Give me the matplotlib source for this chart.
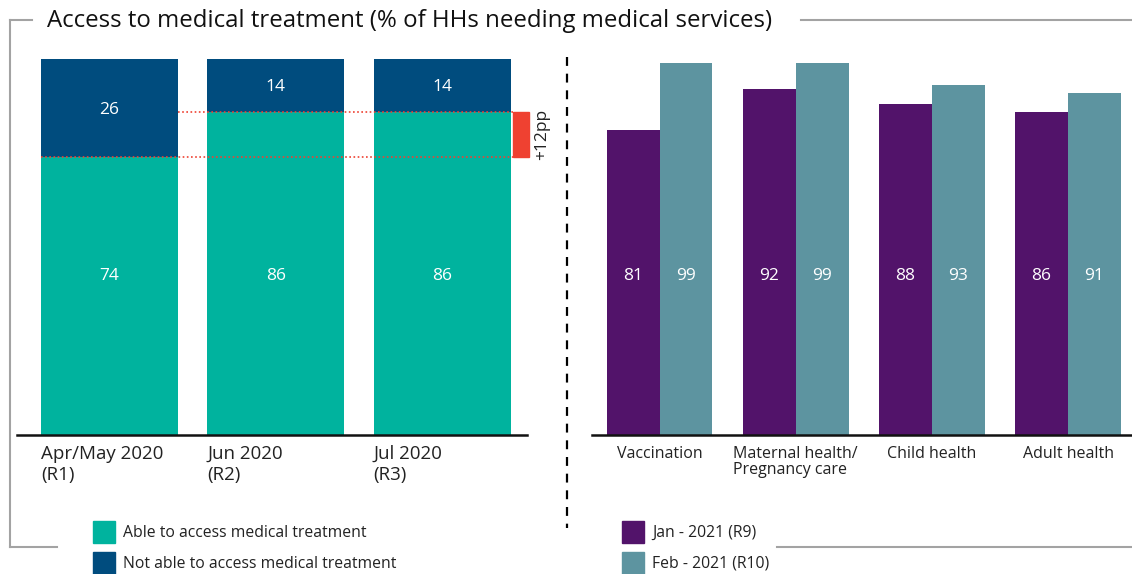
import numpy as np
import matplotlib.pyplot as plt
from matplotlib.lines import Line2D
from matplotlib.patches import Rectangle

plt.rcParams['font.family'] = ['Open Sans', 'DejaVu Sans']

W, H = 1132, 574

# left panel: share of households needing medical services
rounds = ["Apr/May 2020\n(R1)", "Jun 2020\n(R2)", "Jul 2020\n(R3)"]
able = [74, 86, 86]
not_able = [26, 14, 14]

# right panel: access by type of service
services = ["Vaccination", "Maternal health/\nPregnancy care", "Child health", "Adult health"]
jan_r9 = [81, 92, 88, 86]
feb_r10 = [99, 99, 93, 91]

TEAL = "#00B39E"
NAVY = "#004C7E"
PURPLE = "#52136A"
SLATE = "#5D94A0"
RED = "#EF4131"
GREY = "#A3A3A3"


def fx(x):
    return x / W


def fy(y):
    return 1 - y / H


def ax_rect(x0, x1, ytop, ybot):
    return [fx(x0), fy(ybot), (x1 - x0) / W, (ybot - ytop) / H]


fig = plt.figure(figsize=(W / 100, H / 100), dpi=100)

# ---- left: stacked bars
ax1 = fig.add_axes(ax_rect(17, 527, 59, 435))
x1 = np.arange(len(rounds))
w1 = 0.824
ax1.bar(x1, able, w1, color=TEAL)
ax1.bar(x1, not_able, w1, bottom=able, color=NAVY)
for i in range(len(rounds)):
    ax1.text(x1[i], 42.3, f"{able[i]}", color="white", ha="center", va="center", fontsize=12.5)
    ax1.text(x1[i], able[i] + not_able[i] / 2 - 0.5, f"{not_able[i]}", color="white",
             ha="center", va="center", fontsize=12.5)
ax1.set_xlim(-0.556, 2.511)
ax1.set_ylim(0, 100)

# change between R1 and R3
x_red = 2.427
ax1.plot([x1[0] - w1 / 2, x_red], [able[0], able[0]], color=RED, ls=(0, (1, 1.5)), lw=1.2)
ax1.plot([x1[0] + w1 / 2, x_red], [able[2], able[2]], color=RED, ls=(0, (1, 1.5)), lw=1.2)
ax1.add_patch(Rectangle((x_red, able[0]), 0.096, able[2] - able[0], color=RED, clip_on=False))
ax1.text(2.6, (able[0] + able[2]) / 2, f"+{able[2] - able[0]}pp", rotation=90,
         ha="center", va="center", fontsize=12.5, color="#222222")

ax1.set_xticks(x1 - w1 / 2, rounds, ha="left", fontsize=13.5, linespacing=1.25)
ax1.set_yticks([])
ax1.tick_params(axis="x", length=0, pad=7, colors="#222222")
for s in ["top", "right", "left"]:
    ax1.spines[s].set_visible(False)
ax1.spines["bottom"].set_linewidth(1.8)
ax1.spines["bottom"].set_color("#111111")

# ---- right: grouped bars
ax2 = fig.add_axes(ax_rect(592, 1132, 59, 435))
x2 = np.arange(len(services))
w2 = 0.389
ax2.bar(x2 - w2 / 2, jan_r9, w2, color=PURPLE)
ax2.bar(x2 + w2 / 2, feb_r10, w2, color=SLATE)
for i in range(len(services)):
    ax2.text(x2[i] - w2 / 2, 42.3, f"{jan_r9[i]}", color="white", ha="center", va="center", fontsize=12.5)
    ax2.text(x2[i] + w2 / 2, 42.3, f"{feb_r10[i]}", color="white", ha="center", va="center", fontsize=12.5)
ax2.set_xlim(-0.496, 3.47)
ax2.set_ylim(0, 100)
ax2.set_xticks(x2, services, fontsize=11.5, linespacing=0.95, multialignment="left")
ax2.set_yticks([])
ax2.tick_params(axis="x", length=0, pad=8, colors="#222222")
for s in ["top", "right", "left"]:
    ax2.spines[s].set_visible(False)
ax2.spines["bottom"].set_linewidth(1.8)
ax2.spines["bottom"].set_color("#111111")

# ---- frame, title and divider
frame = [
    ([10, 32], [20, 20]),
    ([801, 1132], [20, 20]),
    ([10, 10], [20, 547]),
    ([10, 57], [547, 547]),
    ([777, 1132], [547, 547]),
]
for xs, ys in frame:
    fig.add_artist(Line2D([fx(v) for v in xs], [fy(v) for v in ys], color=GREY, lw=1.5))
fig.add_artist(Line2D([fx(567), fx(567)], [fy(57), fy(528)], color="black", lw=1.6,
                      ls=(0, (4, 3.5))))
fig.text(fx(47), fy(21), "Access to medical treatment (% of HHs needing medical services)",
         fontsize=17.25, va="center", ha="left", color="#111111")

# ---- legends
legend_items = [
    (93, 521, TEAL, "Able to access medical treatment"),
    (93, 552, NAVY, "Not able to access medical treatment"),
    (622, 521, PURPLE, "Jan - 2021 (R9)"),
    (622, 552, SLATE, "Feb - 2021 (R10)"),
]
for x0, y0, c, label in legend_items:
    fig.add_artist(Rectangle((fx(x0), fy(y0 + 22)), 22 / W, 22 / H, color=c,
                             transform=fig.transFigure))
    fig.text(fx(x0 + 30), fy(y0 + 12), label, fontsize=11.3, va="center", ha="left", color="#222222")

fig.savefig("out.png", dpi=100)
